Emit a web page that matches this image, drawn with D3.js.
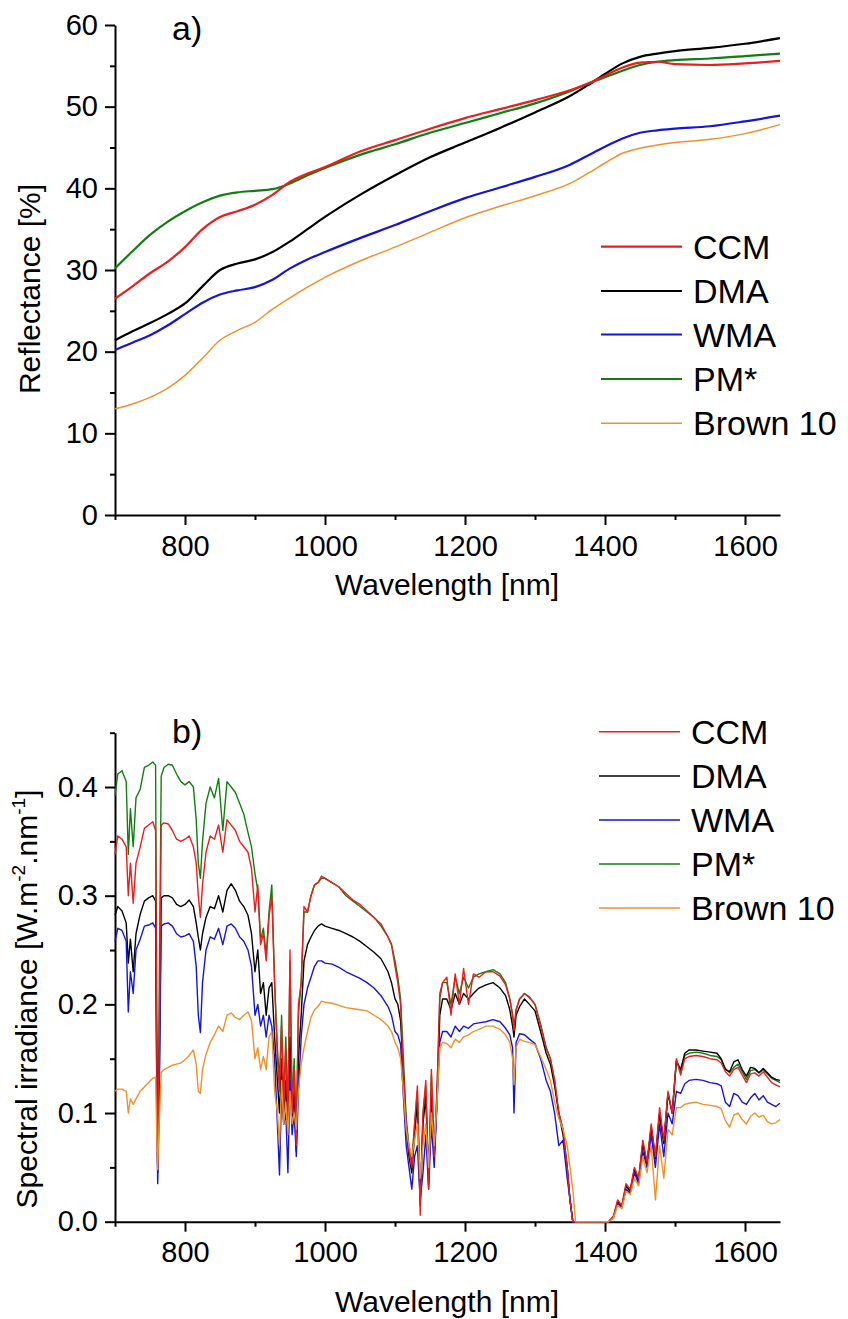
<!DOCTYPE html>
<html>
<head>
<meta charset="utf-8" />
<title>Reflectance and spectral irradiance</title>
<script src="https://cdn.jsdelivr.net/npm/d3@7"></script>
<style>
  body { margin: 0; padding: 0; background: #fff; }
  svg { display: block; font-family: "Liberation Sans", Arial, sans-serif; }
  .axis path, .axis line { stroke: #000; stroke-width: 2px; }
  .axis text { font-size: 29px; fill: #000; font-family: "Liberation Sans", Arial, sans-serif; }
  .lbl { font-size: 30px; fill: #000; }
  .leg { font-size: 34px; fill: #000; }
  .panel { font-size: 34px; fill: #000; }
</style>
</head>
<body>
<svg id="chart" width="848" height="1319"></svg>
<script>
// ---- data: panel a) reflectance [%]
var waveA = [700, 725, 750, 775, 800, 825, 850, 875, 900, 925, 950, 975, 1000, 1050, 1100, 1150,
             1200, 1250, 1300, 1350, 1375, 1400, 1425, 1450, 1475, 1500, 1550, 1600, 1650];
var reflCCM = [26.5, 28.0, 29.6, 31.0, 32.8, 35.0, 36.5, 37.2, 38.0, 39.2, 40.8, 41.8, 42.6, 44.5, 45.9, 47.3,
               48.6, 49.7, 50.8, 52.0, 52.8, 53.8, 54.8, 55.4, 55.5, 55.2, 55.1, 55.3, 55.6];
var reflDMA = [21.4, 22.5, 23.5, 24.6, 25.9, 28.0, 30.0, 30.8, 31.3, 32.2, 33.5, 35.0, 36.5, 39.2, 41.6, 43.8,
               45.6, 47.4, 49.3, 51.3, 52.6, 54.0, 55.3, 56.1, 56.5, 56.8, 57.2, 57.7, 58.4];
var reflWMA = [20.2, 21.1, 22.0, 23.2, 24.6, 26.0, 27.0, 27.5, 27.9, 28.8, 30.2, 31.3, 32.2, 33.9, 35.5, 37.2,
               38.8, 40.1, 41.4, 42.9, 44.0, 45.1, 46.1, 46.8, 47.1, 47.3, 47.6, 48.2, 48.9];
var reflPM = [30.2, 32.3, 34.3, 35.9, 37.2, 38.3, 39.1, 39.5, 39.7, 39.9, 40.6, 41.6, 42.5, 44.1, 45.4, 46.8,
              48.0, 49.2, 50.4, 51.9, 52.8, 53.6, 54.4, 55.1, 55.5, 55.7, 55.9, 56.2, 56.5];
var reflB10 = [13.0, 13.6, 14.4, 15.5, 17.1, 19.2, 21.4, 22.6, 23.6, 25.2, 26.6, 27.9, 29.1, 31.1, 32.8, 34.6,
               36.4, 37.8, 39.1, 40.6, 41.8, 43.1, 44.3, 44.9, 45.3, 45.6, 46.0, 46.7, 47.8];

// ---- data: panel b) spectral irradiance [W.m-2.nm-1]
var waveB = [700, 704, 710, 716, 719, 722, 726, 730, 736, 742, 748, 754, 758, 760, 761, 763, 766,
  770, 776, 782, 788, 794, 800, 806, 812, 816, 819, 822, 825, 830, 836, 842, 848, 854, 860, 866, 872, 878, 884, 890, 895, 900,
  904, 908, 912, 916, 920, 924, 928, 932, 935, 938, 941, 944, 947, 950, 953, 956, 959, 962, 966, 970, 975, 980, 985, 990, 995, 1000,
  1010, 1020, 1030, 1040, 1050, 1060, 1070, 1080, 1090, 1095, 1100,
  1104, 1108, 1112, 1116, 1120, 1124, 1128, 1132, 1136, 1140, 1144, 1148, 1152, 1156, 1160, 1164, 1168,
  1174, 1180, 1186, 1192, 1198, 1205, 1212, 1220, 1230, 1240, 1250, 1258, 1264, 1268, 1270, 1273, 1278, 1285, 1292, 1300,
  1308, 1316, 1322, 1328, 1334, 1340, 1346, 1350, 1354, 1358,
  1370, 1390, 1405, 1412, 1418, 1424, 1430, 1436, 1442, 1448, 1454, 1460, 1466, 1472, 1478, 1484, 1490, 1496, 1502, 1508,
  1514, 1520, 1530, 1540, 1550, 1560, 1566, 1572, 1578, 1584, 1590, 1596, 1602, 1608, 1614, 1620, 1626, 1632, 1638, 1644, 1650];
var irrCCM = [.338, .355, .352, .345, .30, .33, .293, .33, .345, .362, .365, .368, .36, .12, .05, .15, .365,
  .367, .366, .36, .352, .35, .352, .355, .345, .33, .30, .28, .31, .34, .355, .352, .365, .34, .37, .365, .36, .35, .345, .34, .325, .285,
  .31, .255, .265, .24, .28, .30, .22, .15, .12, .18, .1, .16, .09, .25, .1, .14, .07, .2, .22, .29, .285, .3, .31, .312, .318, .316,
  .312, .308, .302, .296, .292, .286, .28, .274, .262, .255, .235,
  .22, .2, .14, .09, .065, .05, .09, .125, .006, .1, .13, .03, .14, .06, .12, .21, .22,
  .225, .19, .228, .2, .233, .2, .228, .225, .23, .23, .226, .218, .205, .19, .176, .195, .205, .21, .206, .2,
  .18, .16, .15, .13, .1, .085, .05, .02, 0, 0,
  0, 0, 0, .005, .02, .015, .035, .03, .05, .04, .075, .055, .09, .06, .105, .075, .12, .1, .15, .135,
  .15, .152, .153, .152, .15, .149, .146, .138, .134, .14, .142, .135, .128, .136, .137, .134, .138, .133, .128, .126, .124];
var irrDMA = [.282, .29, .286, .275, .238, .26, .23, .265, .283, .295, .298, .3, .295, .1, .045, .12, .298,
  .3, .3, .298, .292, .29, .292, .296, .29, .275, .262, .25, .265, .28, .29, .288, .3, .285, .305, .311, .305, .295, .29, .282, .265, .23,
  .25, .21, .22, .19, .215, .22, .17, .13, .1, .15, .09, .13, .08, .17, .09, .12, .065, .15, .19, .24, .255, .262, .268, .272, .274, .272,
  .27, .268, .265, .262, .258, .253, .248, .242, .23, .22, .205,
  .2, .185, .135, .085, .06, .045, .08, .11, .015, .09, .115, .035, .12, .06, .11, .19, .205,
  .205, .195, .21, .2, .21, .205, .21, .215, .218, .22, .215, .208, .195, .18, .17, .19, .198, .205, .2, .194,
  .175, .155, .145, .125, .1, .08, .05, .02, 0, 0,
  0, 0, 0, .004, .018, .014, .033, .028, .048, .038, .072, .053, .087, .058, .1, .072, .118, .1, .148, .14,
  .155, .158, .158, .157, .156, .155, .15, .14, .138, .147, .149, .14, .134, .142, .141, .137, .141, .137, .133, .131, .13];
var irrWMA = [.258, .27, .268, .258, .193, .23, .21, .25, .26, .272, .273, .275, .27, .09, .035, .1, .272,
  .274, .275, .272, .265, .262, .263, .265, .258, .235, .19, .174, .22, .25, .262, .26, .27, .255, .272, .274, .27, .262, .258, .25, .235, .19,
  .2, .18, .19, .17, .19, .18, .15, .09, .043, .12, .09, .1, .045, .13, .08, .1, .06, .12, .17, .2, .215, .225, .235, .24, .24, .238,
  .237, .234, .23, .227, .224, .22, .215, .208, .198, .19, .175,
  .172, .163, .115, .07, .05, .03, .06, .07, .02, .045, .08, .03, .09, .05, .11, .165, .175,
  .175, .17, .18, .175, .18, .178, .182, .183, .184, .186, .184, .178, .172, .16, .1, .165, .173, .172, .168, .164,
  .15, .13, .12, .1, .07, .075, .04, .02, 0, 0,
  0, 0, 0, .004, .017, .013, .03, .026, .045, .035, .065, .05, .08, .05, .09, .06, .1, .09, .12, .118,
  .127, .13, .131, .13, .128, .127, .125, .11, .106, .118, .116, .11, .108, .114, .118, .112, .116, .11, .108, .106, .109];
var irrPM = [.392, .412, .415, .405, .338, .38, .345, .39, .398, .418, .42, .423, .42, .15, .05, .2, .41,
  .418, .421, .42, .412, .405, .402, .405, .4, .37, .33, .316, .35, .385, .4, .39, .408, .36, .405, .4, .395, .385, .375, .358, .345, .32,
  .305, .26, .27, .245, .285, .31, .22, .16, .13, .19, .11, .17, .1, .24, .11, .15, .08, .19, .22, .285, .285, .3, .31, .312, .316, .316,
  .312, .308, .3, .295, .29, .285, .28, .272, .262, .255, .24,
  .225, .205, .15, .095, .07, .055, .09, .12, .02, .1, .125, .04, .135, .065, .12, .205, .22,
  .22, .2, .225, .21, .225, .215, .225, .228, .23, .232, .228, .22, .205, .19, .178, .195, .205, .21, .207, .2,
  .182, .16, .15, .13, .1, .085, .05, .02, 0, 0,
  0, 0, 0, .004, .018, .014, .033, .028, .048, .038, .072, .053, .087, .058, .1, .072, .118, .1, .148, .138,
  .153, .155, .156, .155, .153, .152, .149, .141, .137, .142, .145, .138, .131, .139, .14, .137, .14, .136, .132, .13, .128];
var irrB10 = [.12, .122, .122, .12, .1, .113, .108, .113, .12, .124, .128, .132, .133, .07, .048, .09, .137,
  .14, .142, .144, .145, .146, .149, .153, .158, .145, .12, .118, .14, .154, .165, .172, .18, .175, .19, .192, .188, .186, .19, .193, .185, .15,
  .16, .14, .152, .14, .17, .175, .12, .1, .07, .13, .09, .11, .08, .12, .09, .1, .085, .12, .145, .16, .175, .188, .195, .198, .203, .202,
  .201, .199, .197, .196, .195, .194, .19, .186, .18, .175, .165,
  .16, .15, .12, .085, .07, .06, .075, .09, .04, .07, .09, .05, .1, .07, .11, .16, .165,
  .164, .16, .168, .165, .17, .172, .175, .177, .18, .18, .177, .172, .165, .15, .126, .16, .168, .166, .165, .163,
  .152, .14, .13, .11, .095, .085, .07, .05, .03, 0,
  0, 0, 0, .003, .015, .012, .028, .025, .04, .033, .06, .045, .07, .02, .07, .04, .085, .08, .105, .105,
  .108, .109, .11, .108, .107, .106, .104, .093, .087, .098, .1, .094, .09, .097, .1, .096, .098, .092, .09, .091, .094];

var names = ["CCM", "DMA", "WMA", "PM*", "Brown 10"];
var colors = ["#ee1c1c", "#000000", "#1414dc", "#107f10", "#f0902a"];

var svg = d3.select("#chart");

// x scale shared by both panels
function makeX() {
  return d3.scaleLinear().domain([700, 1650]).range([115, 780]);
}

function drawAxes(x, y, yMajor, yMinor, fmt) {
  var x0 = x.range()[0], yb = y.range()[0];
  svg.append("g").attr("class", "axis")
      .attr("transform", "translate(0," + yb + ")")
      .call(d3.axisBottom(x).tickValues([800, 1000, 1200, 1400, 1600])
          .tickSize(10).tickSizeOuter(0).tickPadding(10).tickFormat(d3.format("d")));
  svg.append("g").attr("class", "axis")
      .attr("transform", "translate(0," + yb + ")")
      .call(d3.axisBottom(x).tickValues([700, 900, 1100, 1300, 1500])
          .tickSize(5).tickFormat(""))
      .select(".domain").remove();
  svg.append("g").attr("class", "axis")
      .attr("transform", "translate(" + x0 + ",0)")
      .call(d3.axisLeft(y).tickValues(yMajor).tickSize(10).tickSizeOuter(0)
          .tickPadding(7).tickFormat(fmt));
  svg.append("g").attr("class", "axis")
      .attr("transform", "translate(" + x0 + ",0)")
      .call(d3.axisLeft(y).tickValues(yMinor).tickSize(5).tickFormat(""))
      .select(".domain").remove();
}

function drawLegend(x1, x2, ys, widths) {
  names.forEach(function(n, i) {
    svg.append("line")
        .attr("x1", x1).attr("x2", x2).attr("y1", ys[i]).attr("y2", ys[i])
        .attr("stroke", colors[i]).attr("stroke-width", widths[i]);
    svg.append("text").attr("class", "leg")
        .attr("x", x2 + 11).attr("y", ys[i] + 12)
        .text(n);
  });
}

// ---------- panel a)
var xA = makeX();
var yA = d3.scaleLinear().domain([0, 60]).range([515, 25]);
drawAxes(xA, yA, [0, 10, 20, 30, 40, 50, 60], [5, 15, 25, 35, 45, 55], d3.format("d"));

var seriesA = [reflCCM, reflDMA, reflWMA, reflPM, reflB10];
var widthsA = [2.2, 2.2, 2.2, 2.2, 1.5];
var lineA = d3.line()
    .x(function(d) { return xA(d[0]); })
    .y(function(d) { return yA(d[1]); })
    .curve(d3.curveMonotoneX);
// draw order: Brown 10, WMA, DMA, PM*, CCM
[4, 2, 1, 3, 0].forEach(function(i) {
  svg.append("path")
      .datum(waveA.map(function(w, k) { return [w, seriesA[i][k]]; }))
      .attr("fill", "none")
      .attr("stroke", colors[i])
      .attr("stroke-width", widthsA[i])
      .attr("d", lineA);
});

svg.append("text").attr("class", "panel").attr("x", 172).attr("y", 40).text("a)");
svg.append("text").attr("class", "lbl").attr("text-anchor", "middle")
    .attr("x", 447).attr("y", 595).text("Wavelength [nm]");
svg.append("text").attr("class", "lbl").attr("text-anchor", "middle")
    .attr("transform", "translate(40,289) rotate(-90)")
    .text("Reflectance [%]");
drawLegend(601, 682, [246.7, 291, 334.5, 379, 423.3], [2.2, 2.2, 2.2, 2.2, 1.5]);

// ---------- panel b)
var xB = makeX();
var yB = d3.scaleLinear().domain([0, 0.45]).range([1221.7, 732.7]);
drawAxes(xB, yB, [0, 0.1, 0.2, 0.3, 0.4], [0.05, 0.15, 0.25, 0.35, 0.45], d3.format(".1f"));

var seriesB = [irrCCM, irrDMA, irrWMA, irrPM, irrB10];
var lineB = d3.line()
    .defined(function(d) { return d[1] != null; })
    .x(function(d) { return xB(d[0]); })
    .y(function(d) { return yB(d[1]); });
// draw order: PM*, DMA, WMA, CCM, Brown 10
[3, 1, 2, 0, 4].forEach(function(i) {
  svg.append("path")
      .datum(waveB.map(function(w, k) { return [w, seriesB[i][k]]; }))
      .attr("fill", "none")
      .attr("stroke", colors[i])
      .attr("stroke-width", 1.4)
      .attr("stroke-linejoin", "round")
      .attr("d", lineB);
});

svg.append("text").attr("class", "panel").attr("x", 172).attr("y", 743).text("b)");
svg.append("text").attr("class", "lbl").attr("text-anchor", "middle")
    .attr("x", 447).attr("y", 1312).text("Wavelength [nm]");
var yl = svg.append("text").attr("class", "lbl").attr("text-anchor", "middle")
    .attr("transform", "translate(37,999) rotate(-90)");
yl.append("tspan").text("Spectral irradiance [W.m");
yl.append("tspan").attr("font-size", 19).attr("dy", -12).text("-2");
yl.append("tspan").attr("dy", 12).text(".nm");
yl.append("tspan").attr("font-size", 19).attr("dy", -12).text("-1");
yl.append("tspan").attr("dy", 12).text("]");
drawLegend(599, 680, [731.7, 776, 820, 864, 908], [1.4, 1.4, 1.4, 1.4, 1.4]);
</script>
</body>
</html>
